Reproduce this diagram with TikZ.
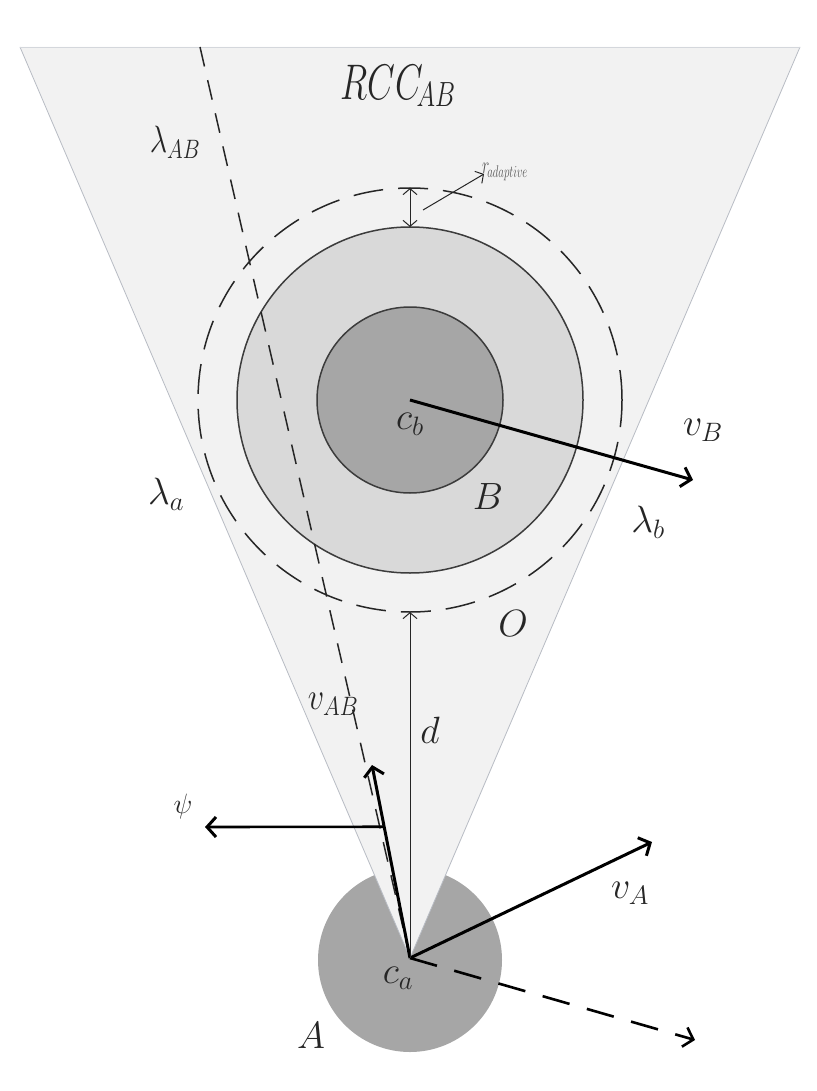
\RequirePackage{fix-cm}
\documentclass[tikz,border=0pt]{standalone}
\usetikzlibrary{arrows.meta,calc}
\definecolor{conefill}{HTML}{F2F2F2}
\definecolor{coneedge}{HTML}{B8BCC4}
\definecolor{ringfill}{HTML}{D9D9D9}
\definecolor{corefill}{HTML}{A6A6A6}
\definecolor{inkdark}{HTML}{262626}
\definecolor{labgray}{HTML}{555555}
\tikzset{
  lab/.style={font=\fontsize{38}{40}\selectfont, inner sep=0pt, text=inkdark},
  vec/.style={line width=3pt, draw=black, -{Straight Barb[length=9pt,width=20pt,line width=3pt]}},
  vecdash/.style={line width=2.6pt, draw=black, dash pattern=on 28pt off 18pt, -{Straight Barb[length=9pt,width=20pt,line width=2.6pt]}},
  thinarrow/.style={line width=1pt, draw=inkdark, -{Straight Barb[length=6pt,width=14pt,line width=1pt]}},
  thindouble/.style={line width=1pt, draw=inkdark, {Straight Barb[length=6pt,width=14pt,line width=1pt]}-{Straight Barb[length=6pt,width=14pt,line width=1pt]}},
  disc/.style={circle, inner sep=0pt, outer sep=0pt},
}
\begin{document}
\begin{tikzpicture}[x=1pt,y=-1pt]
\useasboundingbox (0,0) rectangle (816,1091);
\fill[white] (0,0) rectangle (816,1091);
% key points
\coordinate (ca) at (410,958);
\coordinate (cb) at (410,400);
\coordinate (TL) at (20,47);
\coordinate (TR) at (800,47);
\coordinate (labtop) at (200,47);
% robot A
\node[disc, fill=corefill, minimum size=184pt] (A) at (410,960) {};
% collision cone
\fill[conefill] (TL) -- (TR) -- (ca) -- cycle;
\draw[coneedge, line width=0.8pt] (TL) -- (ca) -- (TR);
\draw[coneedge!60, line width=0.6pt] (TL) -- (TR);
% obstacle B and O
\node[disc, draw=inkdark, line width=1.5pt, dash pattern=on 30pt off 15pt, minimum size=424pt] (O) at (cb) {};
\node[disc, draw=inkdark!90, fill=ringfill, line width=1.5pt, minimum size=346pt] (Bout) at (cb) {};
\node[disc, draw=inkdark!90, fill=corefill, line width=1.5pt, minimum size=186pt] (Bin) at (cb) {};
% lambda_AB line
\draw[inkdark, line width=1.5pt, dash pattern=on 20pt off 14pt] (labtop) -- (ca);
% vectors
\coordinate (vab) at (372,765);
\coordinate (psiend) at (205,827);
\coordinate (va) at (652,842);
\coordinate (vdash) at (695,1040);
\coordinate (vb) at (693,480);
\coordinate (psistart) at ($(ca)!0.68!(vab)$);
\draw[vec] (ca) -- (vab);
\draw[vec, line width=2.6pt] (psistart) -- (psiend);
\draw[vec] (ca) -- (va);
\draw[vecdash] (ca) -- (vdash);
\draw[vec] (cb) -- (vb);
\draw[thinarrow] (ca) -- (O.south);
\draw[thindouble] (O.north) -- (Bout.north);
\coordinate (rstart) at (423,210);
\coordinate (rend) at (484,174);
\draw[thinarrow] (rstart) -- (rend);
% labels
\node[lab, font=\fontsize{50}{52}\selectfont] (rcc) at (398,86) {\scalebox{0.72}[1]{$RCC_{\!AB}$}};
\node[lab] (lAB) at (175,142) {\scalebox{0.8}[1]{$\lambda_{AB}$}};
\node[lab] (la) at (166,494) {$\lambda_{a}$};
\node[lab] (lb) at (648,522) {$\lambda_{b}$};
\node[lab] (lcb) at (410,424) {$c_{b}$};
\node[lab] (lB) at (488,497) {$B$};
\node[lab] (lO) at (513,624) {$O$};
\node[lab] (lvB) at (703,430) {$v_{B}$};
\node[lab] (lvAB) at (333,704) {\scalebox{0.85}[1]{$v_{AB}$}};
\node[lab] (ld) at (430,730) {$d$};
\node[lab, font=\fontsize{28}{30}\selectfont] (lpsi) at (183,806) {$\psi$};
\node[lab] (lvA) at (630,893) {$v_{A}$};
\node[lab] (lca) at (398,978) {$c_{a}$};
\node[lab] (lA) at (311,1036) {$A$};
\node[lab, text=labgray, font=\fontsize{24}{26}\selectfont, anchor=west] (lr) at (482,172) {\scalebox{0.65}[1]{$r_{\!adaptive}$}};
\end{tikzpicture}
\end{document}
